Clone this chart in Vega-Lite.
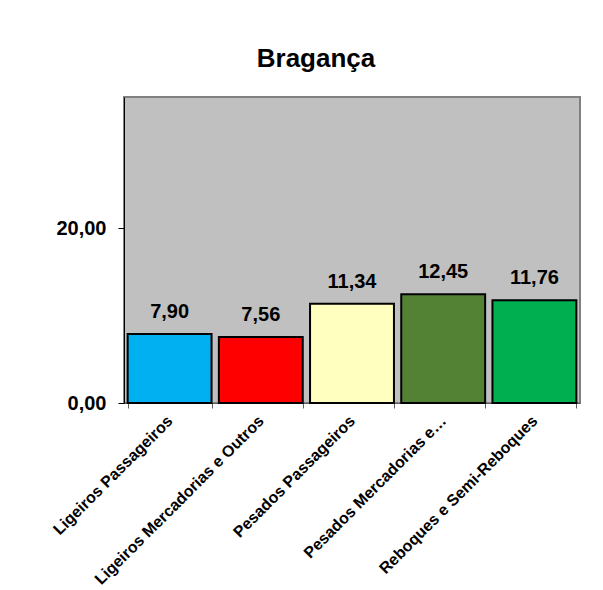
{
  "$schema": "https://vega.github.io/schema/vega-lite/v6.json",
  "width": 456,
  "height": 306,
  "autosize": {"type": "none"},
  "padding": {"left": 124, "top": 97, "right": 23, "bottom": 187},
  "background": "white",
  "title": {"text": "Bragança", "font": "Liberation Sans", "fontSize": 26, "fontWeight": "bold", "color": "black", "offset": 25, "dx": -36, "anchor": "middle"},
  "config": {
    "locale": {"number": {"decimal": ",", "thousands": ".", "grouping": [3], "currency": ["", " €"]}},
    "view": {"fill": "#C0C0C0", "stroke": "#808080", "strokeWidth": 2},
    "font": "Liberation Sans"
  },
  "data": {"values": [
    {"categoria": "Ligeiros Passageiros", "valor": 7.90},
    {"categoria": "Ligeiros Mercadorias e Outros", "valor": 7.56},
    {"categoria": "Pesados Passageiros", "valor": 11.34},
    {"categoria": "Pesados Mercadorias e…", "valor": 12.45},
    {"categoria": "Reboques e Semi-Reboques", "valor": 11.76}
  ]},
  "encoding": {
    "x": {"field": "categoria", "type": "nominal", "sort": null,
      "scale": {"paddingInner": 0.08, "paddingOuter": 0.04},
      "axis": {"title": null, "labelAngle": -45, "labelAlign": "right", "labelBaseline": "middle", "labelFont": "Liberation Sans", "labelFontSize": 16, "labelFontWeight": "bold", "labelColor": "black", "labelPadding": 10, "labelLimit": 300, "tickBand": "extent", "domainColor": "#606060", "tickColor": "#606060", "tickSize": 5}},
    "y": {"field": "valor", "type": "quantitative",
      "scale": {"domain": [0, 35], "nice": false},
      "axis": {"title": null, "values": [0, 20], "format": ".2f", "grid": false, "labelFont": "Liberation Sans", "labelFontSize": 20, "labelFontWeight": "bold", "labelColor": "black", "labelPadding": 12, "domainColor": "black", "tickColor": "black", "tickSize": 6}}
  },
  "layer": [
    {"mark": {"type": "bar", "stroke": "black", "strokeWidth": 2},
      "encoding": {"color": {"field": "categoria", "type": "nominal", "sort": null, "legend": null,
        "scale": {"range": ["#00B0F0", "#FF0000", "#FFFFC0", "#548235", "#00B050"]}}}},
    {"mark": {"type": "text", "baseline": "alphabetic", "dy": -16, "font": "Liberation Sans", "fontSize": 20, "fontWeight": "bold", "color": "black"},
      "encoding": {"text": {"field": "valor", "type": "quantitative", "format": ".2f"}}}
  ]
}
